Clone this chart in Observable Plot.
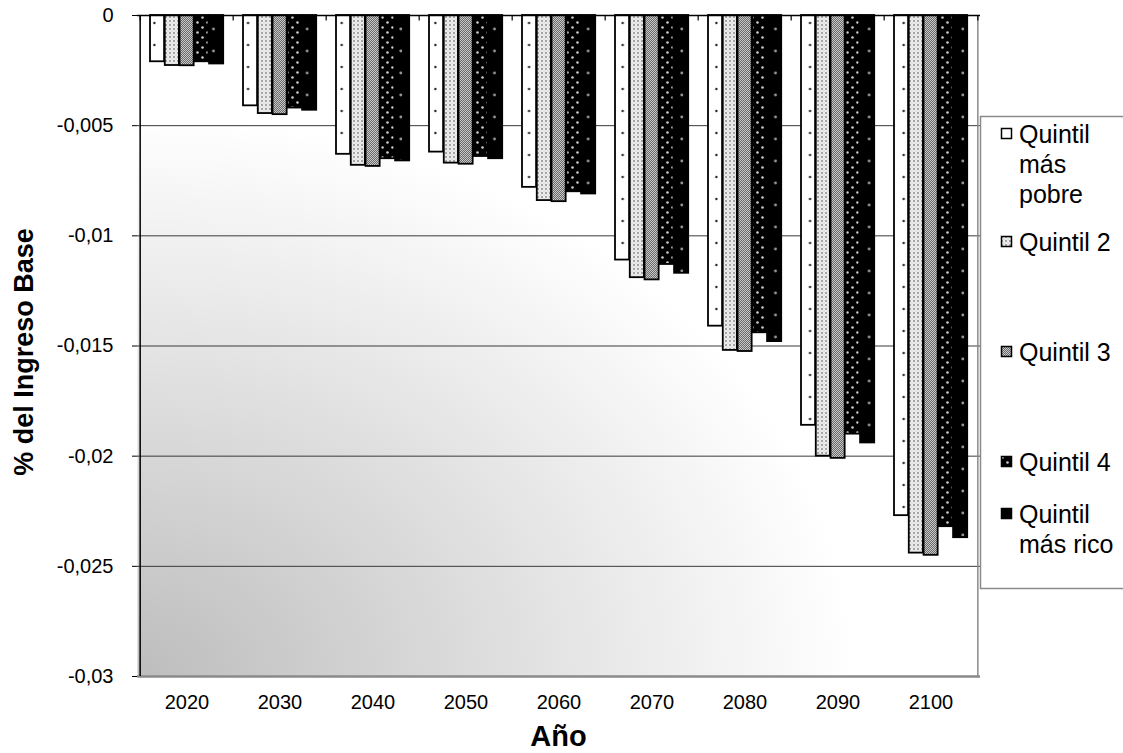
<!DOCTYPE html>
<html><head><meta charset="utf-8">
<script src="https://cdn.jsdelivr.net/npm/d3@7"></script>
<script src="https://cdn.jsdelivr.net/npm/@observablehq/plot@0.6"></script>
<style>body{margin:0;background:#fff;font-family:"Liberation Sans",Arial,sans-serif}</style>
</head><body><div id="chart"></div>
<script>
// ---- data ----
const years = [2020, 2030, 2040, 2050, 2060, 2070, 2080, 2090, 2100];
const quintiles = ["Quintil más pobre", "Quintil 2", "Quintil 3", "Quintil 4", "Quintil más rico"];
const q1 = [-0.0021, -0.0041, -0.0063, -0.0062, -0.0078, -0.0111, -0.0141, -0.0186, -0.0227];
const q2 = [-0.00227, -0.00445, -0.0068, -0.0067, -0.0084, -0.0119, -0.0152, -0.0200, -0.0244];
const q3 = [-0.00228, -0.0045, -0.00685, -0.00675, -0.00845, -0.0120, -0.01525, -0.0201, -0.0245];
const q4 = [-0.0021, -0.0042, -0.0065, -0.0064, -0.0080, -0.0113, -0.0144, -0.0190, -0.0232];
const q5 = [-0.0022, -0.0043, -0.0066, -0.0065, -0.0081, -0.0117, -0.0148, -0.0194, -0.0237];
const yTicks = [0, -0.005, -0.01, -0.015, -0.02, -0.025, -0.03];
const gridValues = [-0.005, -0.01, -0.015, -0.02, -0.025];
const legendLines = [["Quintil", "más", "pobre"], ["Quintil 2"], ["Quintil 3"], ["Quintil 4"], ["Quintil", "más rico"]];
const xTitle = "Año";
const yTitle = "% del Ingreso Base";

const series = [q1, q2, q3, q4, q5];
const table = [];
series.forEach((vals, qi) => vals.forEach((v, k) => table.push({year: years[k], quintil: quintiles[qi], qi, value: v})));

// ---- layout ----
const W = 1123, H = 753, ML = 137, MR = 143, MT = 15, MB = 77;
const bw = (W - ML - MR) / years.length;
const off = 10, barW = (bw - 2 * off + 0.2) / 5;

const marks = [
  Plot.frame({fill: "url(#bgGrad)"}),
  Plot.ruleY(gridValues, {stroke: "#3a3a3a", strokeWidth: 1}),
  ...quintiles.map((q, i) => Plot.barY(table.filter(d => d.qi === i), {
    x: "year", y: "value", fill: `url(#pat${i})`, stroke: "#000", strokeWidth: 1.8,
    insetLeft: off + barW * i, insetRight: bw - off - barW * (i + 1)
  })),
  Plot.ruleY([yTicks[yTicks.length - 1]], {stroke: "#8a8a8a", strokeWidth: 2.5}),
  Plot.ruleX([years[years.length - 1]], {dx: bw / 2, stroke: "#8a8a8a", strokeWidth: 1.5}),
  Plot.ruleX([years[0]], {dx: -bw / 2, stroke: "#000", strokeWidth: 1.5}),
  Plot.ruleY([0], {stroke: "#000", strokeWidth: 1.5}),
  Plot.ruleX(years, {dx: -bw / 2, y1: 0, y2: -0.00025, stroke: "#000", strokeWidth: 1.2}),
  Plot.ruleX([years[years.length - 1]], {dx: bw / 2, y1: 0, y2: -0.00025, stroke: "#000", strokeWidth: 1.2}),
  Plot.axisY({ticks: yTicks, tickSize: 5, tickPadding: 19, fontSize: 20, label: null,
    tickFormat: d => String(d).replace(".", ",")}),
  Plot.axisX({tickSize: 0, tickPadding: 18, fontSize: 20, label: null, tickFormat: d => String(d)})
];

const chart = Plot.plot({
  width: W, height: H,
  marginLeft: ML, marginRight: MR, marginTop: MT, marginBottom: MB,
  style: {fontFamily: '"Liberation Sans", Arial, sans-serif', color: "#000", background: "transparent"},
  x: {type: "band", domain: years, padding: 0},
  y: {domain: [-0.03, 0]},
  marks
});
document.getElementById("chart").appendChild(chart);

// ---- defs: gradient + patterns ----
const svg = d3.select(chart);
const defs = svg.insert("defs", ":first-child");
const g = defs.append("radialGradient").attr("id", "bgGrad")
  .attr("cx", 0).attr("cy", 1).attr("fx", 0).attr("fy", 1).attr("r", 0.85);
g.append("stop").attr("offset", 0).attr("stop-color", "#bdbdbd");
g.append("stop").attr("offset", 1).attr("stop-color", "#ffffff");

function pat(id, w, h, x) {
  return defs.append("pattern").attr("id", id).attr("patternUnits", "userSpaceOnUse")
    .attr("width", w).attr("height", h).attr("x", x || 0).attr("y", MT);
}
// Q1: white with sparse dots, one column per bar
let p = pat("pat0", bw, 22, ML);
p.append("rect").attr("width", bw).attr("height", 22).attr("fill", "#fff");
p.append("circle").attr("cx", off + barW * 0.5).attr("cy", 8).attr("r", 1.2).attr("fill", "#222");
// Q2: light with dense dots
p = pat("pat1", 4, 4);
p.append("rect").attr("width", 4).attr("height", 4).attr("fill", "#e2e2e2");
p.append("circle").attr("cx", 2).attr("cy", 2).attr("r", 1.6).attr("fill", "#fff");
p.append("circle").attr("cx", 2).attr("cy", 2).attr("r", 0.8).attr("fill", "#333");
// Q3: fine grey checker
p = pat("pat2", 2, 2);
p.append("rect").attr("width", 2).attr("height", 2).attr("fill", "#c8c8c8");
p.append("rect").attr("width", 1).attr("height", 1).attr("fill", "#6a6a6a");
p.append("rect").attr("x", 1).attr("y", 1).attr("width", 1).attr("height", 1).attr("fill", "#6a6a6a");
// Q4: black with staggered light dots
p = pat("pat3", 10, 10);
p.append("rect").attr("width", 10).attr("height", 10).attr("fill", "#000");
p.append("circle").attr("cx", 2.5).attr("cy", 2.5).attr("r", 1.3).attr("fill", "#cfcfcf");
p.append("circle").attr("cx", 7.5).attr("cy", 7.5).attr("r", 1.3).attr("fill", "#cfcfcf");
// Q5: black with sparse grey dots, one column per bar
p = pat("pat4", bw, 22, ML);
p.append("rect").attr("width", bw).attr("height", 22).attr("fill", "#000");
p.append("circle").attr("cx", off + barW * 4.5).attr("cy", 14).attr("r", 1.4).attr("fill", "#9a9a9a");

// ---- axis titles ----
svg.append("text").attr("transform", "translate(33,352) rotate(-90)")
  .attr("text-anchor", "middle").attr("font-size", 27).attr("font-weight", "bold").text(yTitle);
svg.append("text").attr("x", (ML + W - MR) / 2).attr("y", 746)
  .attr("text-anchor", "middle").attr("font-size", 29).attr("font-weight", "bold").text(xTitle);

// ---- legend ----
const lg = svg.append("g").attr("font-size", 25).attr("text-anchor", "start");
lg.append("rect").attr("x", 980.5).attr("y", 116.5).attr("width", 160).attr("height", 472)
  .attr("fill", "#fff").attr("stroke", "#8a8a8a").attr("stroke-width", 1.5);
const firstBaselines = [143, 251, 361, 471, 523];
const lineH = 30;
legendLines.forEach((lines, i) => {
  const b = firstBaselines[i];
  lg.append("rect").attr("x", 1001.5).attr("y", b - 14.5).attr("width", 10).attr("height", 10)
    .attr("fill", `url(#pat${i})`).attr("stroke", "#000").attr("stroke-width", 1.5);
  lines.forEach((t, j) => lg.append("text").attr("x", 1019).attr("y", b + j * lineH).text(t));
});
</script>
</body></html>
